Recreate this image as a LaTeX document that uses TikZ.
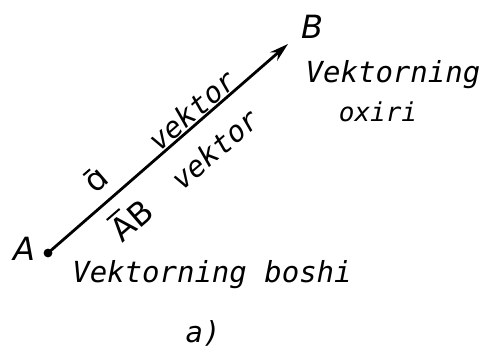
\documentclass[tikz,border=0pt]{standalone}
\usepackage{fontspec}
\setmainfont{DejaVu Sans}
\newfontfamily\handfont{DejaVu Sans Mono}
\usetikzlibrary{arrows.meta}
\newcommand\barred[3]{\leavevmode\vbox{\offinterlineskip\hbox{\kern#2\vrule width #1 height 2pt depth 0pt}\kern 4pt\hbox{#3}}}
\tikzset{
  hand/.style={font=\handfont\itshape\fontsize{29}{34}\selectfont, inner sep=0pt},
  handsmall/.style={font=\handfont\itshape\fontsize{26}{30}\selectfont, inner sep=0pt},
  upr/.style={font=\fontsize{32}{36}\selectfont, inner sep=0pt},
  pointlbl/.style={font=\itshape\fontsize{32}{36}\selectfont, inner sep=0pt},
  vec/.style={line width=2.8pt, -{Stealth[length=19pt,width=11pt]}},
}
\begin{document}
\begin{tikzpicture}[x=1pt,y=-1pt]
\path[use as bounding box, fill=white] (0,0) rectangle (489,353);
\coordinate (A) at (48,253);
\coordinate (B) at (288,44);
\fill (A) circle (4.4pt);
\draw[vec] (A) -- (B);
\node[pointlbl] (lA) at (24,249) {A};
\node[pointlbl] (lB) at (312,27) {B};
\node[hand] (end1) at (393,75) {Vektorning};
\node[handsmall] (end2) at (378,112) {oxiri};
\node[hand] (start) at (212,275) {Vektorning boshi};
\node[hand] (cap) at (203,333) {a)};
\node[hand, rotate=40.8] (v1) at (192,110) {vektor};
\node[hand, rotate=40.8] (v2) at (215,149) {vektor};
\node[upr, rotate=40.8] (abar) at (96,179) {\barred{9pt}{3pt}{ɑ}};
\node[upr, rotate=40.8] (ab) at (130,218) {\barred{17pt}{3pt}{AB}};
\end{tikzpicture}
\end{document}
